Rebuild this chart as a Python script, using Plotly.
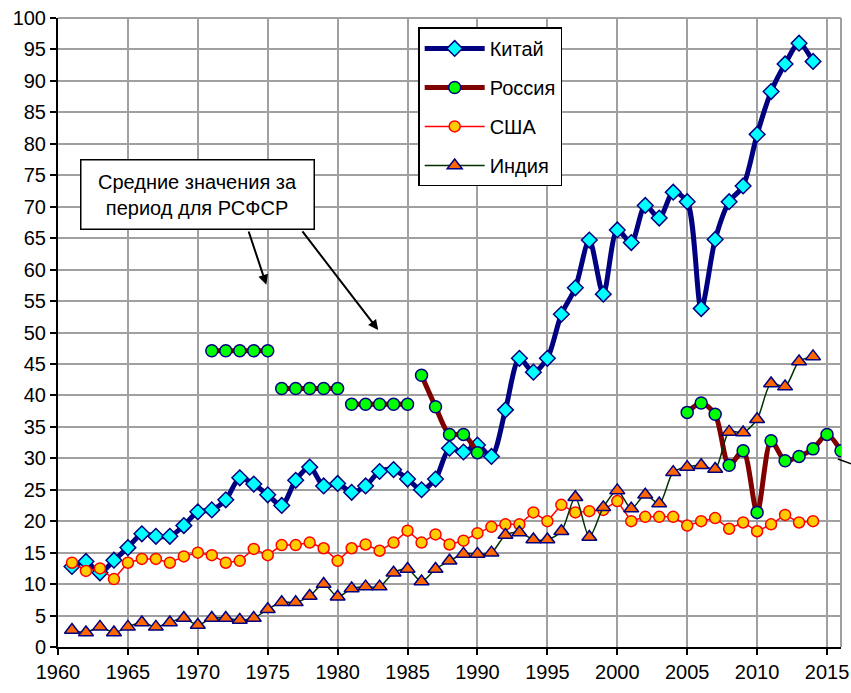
import plotly.graph_objects as go

years = list(range(1961, 2015))
china = [12.8, 13.6, 11.8, 13.8, 15.8, 18.0, 17.6, 17.6, 19.3, 21.5,
         21.8, 23.4, 26.9, 25.9, 24.2, 22.5, 26.5, 28.6, 25.6, 26.0,
         24.6, 25.6, 27.9, 28.2, 26.7, 25.0, 26.7, 31.6, 31.0, 32.1,
         30.3, 37.7, 45.9, 43.7, 45.9, 52.9, 57.1, 64.7, 56.1, 66.3,
         64.3, 70.2, 68.2, 72.3, 70.8, 53.8, 64.8, 70.8, 73.3, 81.5,
         88.3, 92.7, 96.0, 93.1]
usa = [13.4, 12.1, 12.5, 10.8, 13.4, 14.0, 14.0, 13.4, 14.4, 15.0,
       14.6, 13.4, 13.7, 15.6, 14.6, 16.2, 16.2, 16.6, 15.7, 13.7,
       15.7, 16.3, 15.3, 16.6, 18.5, 16.6, 17.9, 16.3, 16.9, 18.1,
       19.1, 19.5, 19.5, 21.4, 20.0, 22.6, 21.4, 21.6, 21.8, 23.2,
       20.0, 20.7, 20.7, 20.7, 19.3, 20.0, 20.5, 18.8, 19.8, 18.4,
       19.5, 21.0, 19.8, 20.0]
india = [2.7, 2.3, 3.2, 2.3, 3.2, 3.9, 3.2, 3.9, 4.6, 3.5,
         4.6, 4.6, 4.3, 4.6, 6.0, 7.1, 7.1, 8.1, 10.0, 8.0,
         9.3, 9.6, 9.6, 11.8, 12.4, 10.4, 12.4, 13.7, 14.8, 14.8,
         15.0, 17.8, 18.2, 17.1, 17.1, 18.4, 23.8, 17.5, 22.2, 24.9,
         22.0, 24.2, 22.8, 27.8, 28.6, 28.9, 28.3, 34.2, 34.1, 36.2,
         41.9, 41.4, 45.4, 46.2]
russia_years_a = [1986, 1987, 1988, 1989, 1990]
russia_a = [43.2, 38.2, 33.8, 33.8, 30.9]
russia_years_b = list(range(2005, 2017))
russia_b = [37.3, 38.8, 37.0, 28.9, 31.2, 21.4, 32.8, 29.6, 30.3, 31.5, 33.8, 31.2]

rsfsr_periods = [(1971, 1975), (1976, 1980), (1981, 1985)]
rsfsr_means = [47.1, 41.1, 38.6]

x_ticks = list(range(1960, 2016, 5))
y_ticks = list(range(0, 101, 5))

NAVY = "#000080"
MAROON = "#800000"

fig = go.Figure()

fig.add_trace(go.Scatter(
    x=years, y=china, name="Китай", mode="lines+markers", legendgroup="cn",
    line=dict(color=NAVY, width=5, shape="spline", smoothing=0.8),
    marker=dict(symbol="diamond", size=12, color="#00FFFF", line=dict(color=NAVY, width=1.5))))

ru_marker = dict(symbol="circle", size=12, color="#00FF00", line=dict(color=NAVY, width=1.5))
ru_x = russia_years_a + [None] + russia_years_b
ru_y = russia_a + [None] + russia_b
fig.add_trace(go.Scatter(
    x=ru_x, y=ru_y, name="Россия", mode="lines+markers", legendgroup="ru",
    connectgaps=False,
    line=dict(color=MAROON, width=5, shape="spline", smoothing=0.8),
    marker=ru_marker))
for (a, b), m in zip(rsfsr_periods, rsfsr_means):
    xs = list(range(a, b + 1))
    fig.add_trace(go.Scatter(
        x=xs, y=[m] * len(xs), mode="lines+markers", legendgroup="ru",
        showlegend=False, line=dict(color=MAROON, width=5), marker=ru_marker))

fig.add_trace(go.Scatter(
    x=years, y=usa, name="США", mode="lines+markers", legendgroup="us",
    line=dict(color="#FF0000", width=1.5),
    marker=dict(symbol="circle", size=11, color="#FFCC00", line=dict(color="#FF0000", width=1.5))))

fig.add_trace(go.Scatter(
    x=years, y=india, name="Индия", mode="lines+markers", legendgroup="in",
    line=dict(color="#003300", width=1.5, shape="spline", smoothing=0.8),
    marker=dict(symbol="triangle-up", size=13, color="#FF6600", line=dict(color=NAVY, width=1.5))))

font_family = "Liberation Sans, Arial, sans-serif"

fig.update_layout(
    width=851, height=693,
    margin=dict(l=58, r=10, t=18, b=46),
    paper_bgcolor="white", plot_bgcolor="white",
    font=dict(family=font_family, size=20, color="black"),
    showlegend=True,
    legend=dict(
        x=0.46, y=0.985, xanchor="left", yanchor="top",
        bgcolor="white", bordercolor="black", borderwidth=1.5,
        font=dict(size=20), tracegroupgap=10, itemwidth=60,
    ),
    xaxis=dict(
        range=[1960, 2016], tickmode="array", tickvals=x_ticks,
        showgrid=True, gridcolor="#A0A0A0", gridwidth=1.5,
        showline=True, linecolor="black", linewidth=2,
        ticks="outside", ticklen=6, tickcolor="black", tickwidth=1.5,
        zeroline=False, tickfont=dict(size=20), automargin=False,
        ticklabeloverflow="allow",
    ),
    yaxis=dict(
        range=[0, 100], tickmode="array", tickvals=y_ticks,
        showgrid=True, gridcolor="#A0A0A0", gridwidth=1.5,
        showline=True, linecolor="black", linewidth=2,
        ticks="outside", ticklen=6, tickcolor="black", tickwidth=1.5,
        zeroline=False, tickfont=dict(size=20), automargin=False,
        ticklabeloverflow="allow",
    ),
    shapes=[
        dict(type="line", xref="paper", yref="paper", x0=0, x1=1, y0=1, y1=1,
             line=dict(color="#A0A0A0", width=2), layer="below"),
        dict(type="line", xref="paper", yref="paper", x0=1, x1=1, y0=0, y1=1,
             line=dict(color="#A0A0A0", width=2), layer="below"),
        dict(type="line", xref="paper", yref="paper", x0=0.996, x1=1.02, y0=0.299, y1=0.288,
             line=dict(color="black", width=1.5)),
    ],
    annotations=[
        dict(x=1970.0, y=71.9, xref="x", yref="y", text="Средние значения за<br>период для РСФСР",
             showarrow=False, font=dict(size=20), align="center",
             bgcolor="white", bordercolor="black", borderwidth=1.5,
             width=228, height=64, borderpad=2),
        dict(x=1974.9, y=57.6, ax=1973.6, ay=66.3, xref="x", yref="y", axref="x", ayref="y",
             text="", showarrow=True, arrowhead=2, arrowsize=1, arrowwidth=2, arrowcolor="black"),
        dict(x=1982.9, y=50.4, ax=1977.4, ay=66.3, xref="x", yref="y", axref="x", ayref="y",
             text="", showarrow=True, arrowhead=2, arrowsize=1, arrowwidth=2, arrowcolor="black"),
    ],
)

fig.write_html(
    "out.html",
    config={"displayModeBar": False},
    post_script="document.body.style.margin='0';document.body.style.overflow='hidden';",
)
